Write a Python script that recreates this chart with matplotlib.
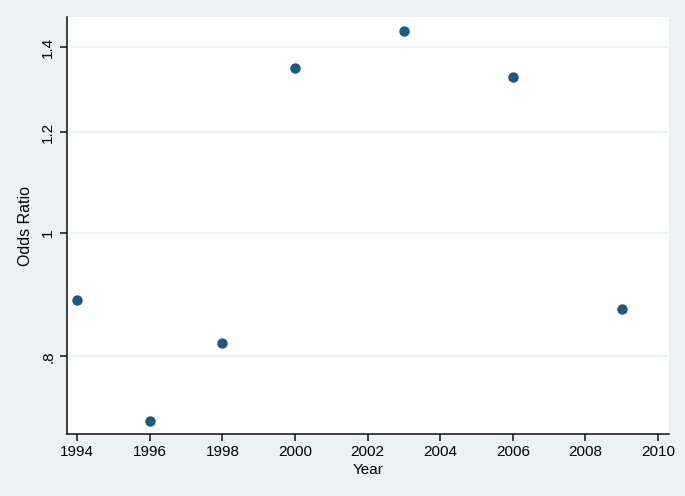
import matplotlib
matplotlib.use("Agg")
import matplotlib.pyplot as plt
from matplotlib.ticker import FixedLocator, NullLocator

years = [1994, 1996, 1998, 2000, 2003, 2006, 2009]
odds_ratio = [0.886, 0.712, 0.820, 1.349, 1.441, 1.326, 0.871]

x_ticks = [1994, 1996, 1998, 2000, 2002, 2004, 2006, 2008, 2010]
y_ticks = [0.8, 1.0, 1.2, 1.4]
y_tick_labels = [".8", "1", "1.2", "1.4"]

bg = "#eaf2f3"
plt.rcParams['font.family'] = ['Liberation Sans', 'DejaVu Sans']

fig = plt.figure(figsize=(6.85, 4.96), dpi=100, facecolor=bg)
ax = fig.add_axes([0.0978, 0.125, 0.9766 - 0.0978, 0.9657 - 0.125])
ax.set_facecolor("white")
ax.set_yscale("log")
ax.set_xlim(1993.72, 2010.3)
ax.set_ylim(0.695, 1.479)

ax.yaxis.set_major_locator(FixedLocator(y_ticks))
ax.yaxis.set_minor_locator(NullLocator())
ax.set_yticklabels(y_tick_labels, rotation=90, va="center")
ax.set_xticks(x_ticks)
ax.set_xticklabels([str(t) for t in x_ticks])

ax.grid(axis="y", color=bg, linewidth=1.2)
ax.set_axisbelow(True)

ax.scatter(years, odds_ratio, s=56, color="#1c5882", zorder=3, linewidths=0)

for s in ["top", "right"]:
    ax.spines[s].set_visible(False)
for s in ["left", "bottom"]:
    ax.spines[s].set_linewidth(1.1)
    ax.spines[s].set_color("#111111")

ax.tick_params(axis="both", labelsize=11, length=5, width=1.1, color="#111111")
ax.tick_params(axis="x", pad=3)
ax.set_xlabel("Year", fontsize=11, labelpad=3)
ax.set_ylabel("Odds Ratio", fontsize=11.5, labelpad=6)

fig.savefig("out.png", dpi=100, facecolor=bg)
